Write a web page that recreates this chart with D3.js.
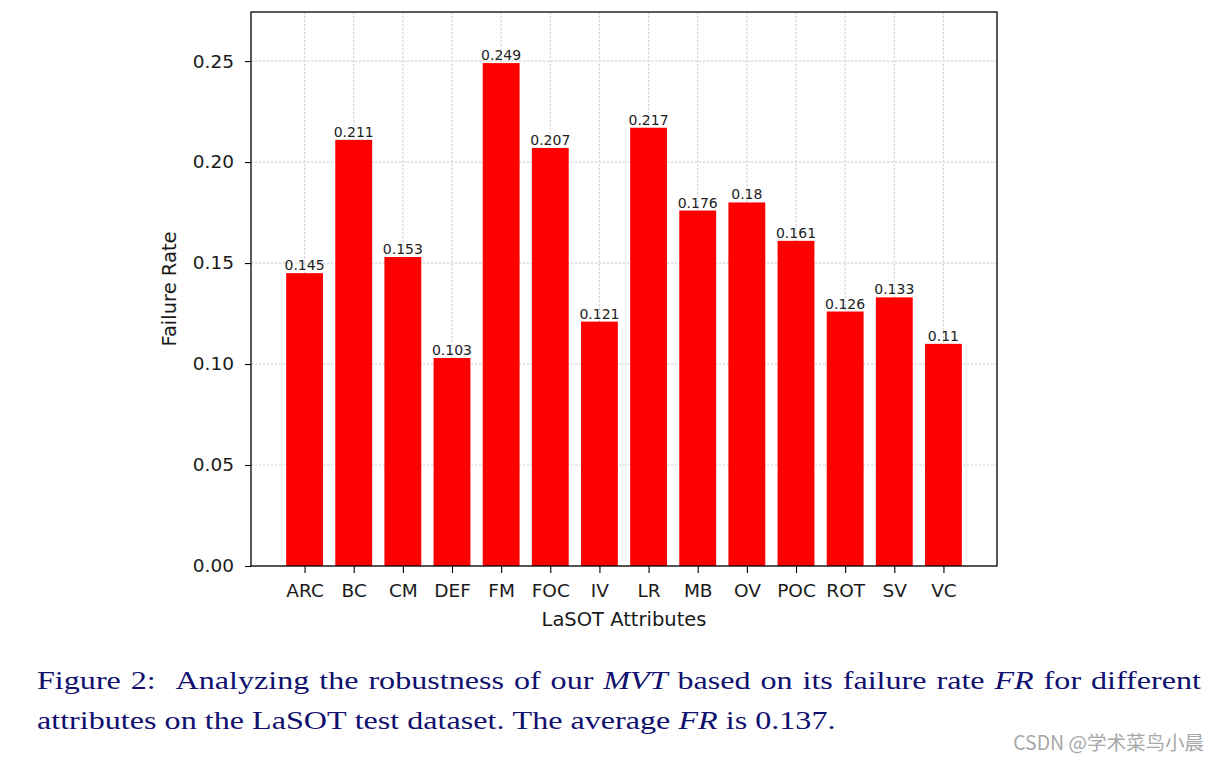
<!DOCTYPE html>
<html>
<head>
<meta charset="utf-8">
<script src="https://cdn.jsdelivr.net/npm/d3@7"></script>
<style>
  html, body { margin: 0; padding: 0; background: #fff; }
  svg { display: block; }
</style>
</head>
<body>
<svg id="chart" width="1219" height="761"></svg>
<script>
const categories = ["ARC","BC","CM","DEF","FM","FOC","IV","LR","MB","OV","POC","ROT","SV","VC"];
const failureRates = [0.145,0.211,0.153,0.103,0.249,0.207,0.121,0.217,0.176,0.18,0.161,0.126,0.133,0.11];
const yTicks = [0.00,0.05,0.10,0.15,0.20,0.25];
const yTickLabels = ["0.00","0.05","0.10","0.15","0.20","0.25"];
const xLabel = "LaSOT Attributes";
const yLabel = "Failure Rate";
const captionLine1 = [["Figure",0],["2:",0],["",0],["Analyzing",0],["the",0],["robustness",0],["of",0],["our",0],["MVT",1],["based",0],["on",0],["its",0],["failure",0],["rate",0],["FR",1],["for",0],["different",0]];
const captionLine2 = [["attributes",0],["on",0],["the",0],["LaSOT",0],["test",0],["dataset.",0],["The",0],["average",0],["FR",1],["is",0],["0.137.",0]];
const watermark = "CSDN @学术菜鸟小晨";

const svg = d3.select("#chart");
svg.append("rect").attr("width",1219).attr("height",761).attr("fill","#fff");

const L = 251, R = 997, T = 12, B = 566;
const x = d3.scaleLinear().domain([-1.09, 14.09]).range([L, R]);
const y = d3.scaleLinear().domain([0, 0.2743]).range([B, T]);
const barW = 0.75;
const sans = "'DejaVu Sans', sans-serif";
const txt = "#1a1a1a";

const g = svg.append("g");

// grid
const gridStyle = s => s.attr("stroke","#d6d6d6").attr("stroke-width",1.2).attr("stroke-dasharray","2.5,1.5");
g.selectAll("line.vg").data(categories).join("line")
  .attr("x1",(d,i)=>x(i)).attr("x2",(d,i)=>x(i)).attr("y1",T).attr("y2",B).call(gridStyle);
g.selectAll("line.hg").data(yTicks).join("line")
  .attr("x1",L).attr("x2",R).attr("y1",d=>y(d)).attr("y2",d=>y(d)).call(gridStyle);

// bars
g.selectAll("rect.bar").data(failureRates).join("rect")
  .attr("x",(d,i)=>x(i-barW/2)).attr("width",x(barW)-x(0))
  .attr("y",d=>y(d)).attr("height",d=>B-y(d)).attr("fill","#ff0000");

// bar labels
g.selectAll("text.bl").data(failureRates).join("text")
  .attr("x",(d,i)=>x(i)).attr("y",d=>y(d)-3)
  .attr("text-anchor","middle").attr("font-family",sans).attr("font-size",14)
  .attr("fill","#222").text(d=>String(d));

// frame
g.append("rect").attr("x",L).attr("y",T).attr("width",R-L).attr("height",B-T)
  .attr("fill","none").attr("stroke","#000").attr("stroke-width",1.3);

// y axis
const yAxis = d3.axisLeft(y).tickValues(yTicks).tickFormat((d,i)=>yTickLabels[i]).tickSize(6).tickPadding(11);
const ya = svg.append("g").attr("transform",`translate(${L},0)`).call(yAxis);
ya.select(".domain").remove();
ya.selectAll("line").attr("stroke","#000").attr("stroke-width",1.1);
ya.selectAll("text").attr("font-family",sans).attr("font-size",18.5).attr("fill",txt);

// x axis
const xAxis = d3.axisBottom(x).tickValues(d3.range(categories.length)).tickFormat(i=>categories[i]).tickSize(7).tickPadding(11);
const xa = svg.append("g").attr("transform",`translate(0,${B})`).call(xAxis);
xa.select(".domain").remove();
xa.selectAll("line").attr("stroke","#000").attr("stroke-width",1.1);
xa.selectAll("text").attr("font-family",sans).attr("font-size",18.5).attr("fill",txt);

// axis labels
svg.append("text").attr("x",(L+R)/2).attr("y",626).attr("text-anchor","middle")
  .attr("font-family",sans).attr("font-size",19.5).attr("fill",txt).text(xLabel);
svg.append("text").attr("transform",`translate(176,${(T+B)/2}) rotate(-90)`).attr("text-anchor","middle")
  .attr("font-family",sans).attr("font-size",19.5).attr("fill",txt).text(yLabel);

// caption (horizontally stretched Times-like text, line 1 justified)
const serif = "'Liberation Serif', 'Times New Roman', serif";
const capColor = "#10106e";
const capSize = 25.5;
const sx = 1.26;
function layoutLine(words, baseline, x0, x1, justify){
  const grp = svg.append("g").attr("transform",`translate(${x0},${baseline}) scale(${sx},1)`);
  const nodes = words.map(([w,it]) => grp.append("text").attr("y",0)
    .attr("font-family",serif).attr("font-size",capSize).attr("fill",capColor)
    .attr("font-style", it ? "italic" : "normal").text(w));
  const widths = nodes.map(n => n.node().getComputedTextLength());
  const total = d3.sum(widths);
  const space = capSize*0.25;
  const gap = justify ? ((x1 - x0)/sx - total)/(words.length-1) : space;
  let cx = 0;
  nodes.forEach((n,i)=>{ n.attr("x",cx); cx += widths[i] + gap; });
}
layoutLine(captionLine1, 689, 37, 1201, true);
layoutLine(captionLine2, 729, 37, 0, false);

svg.append("text").attr("x",1204).attr("y",750).attr("text-anchor","end")
  .attr("font-family","'Noto Sans CJK SC', sans-serif").attr("font-size",19.5).attr("fill","#a8a8a8").text(watermark);
</script>
</body>
</html>
